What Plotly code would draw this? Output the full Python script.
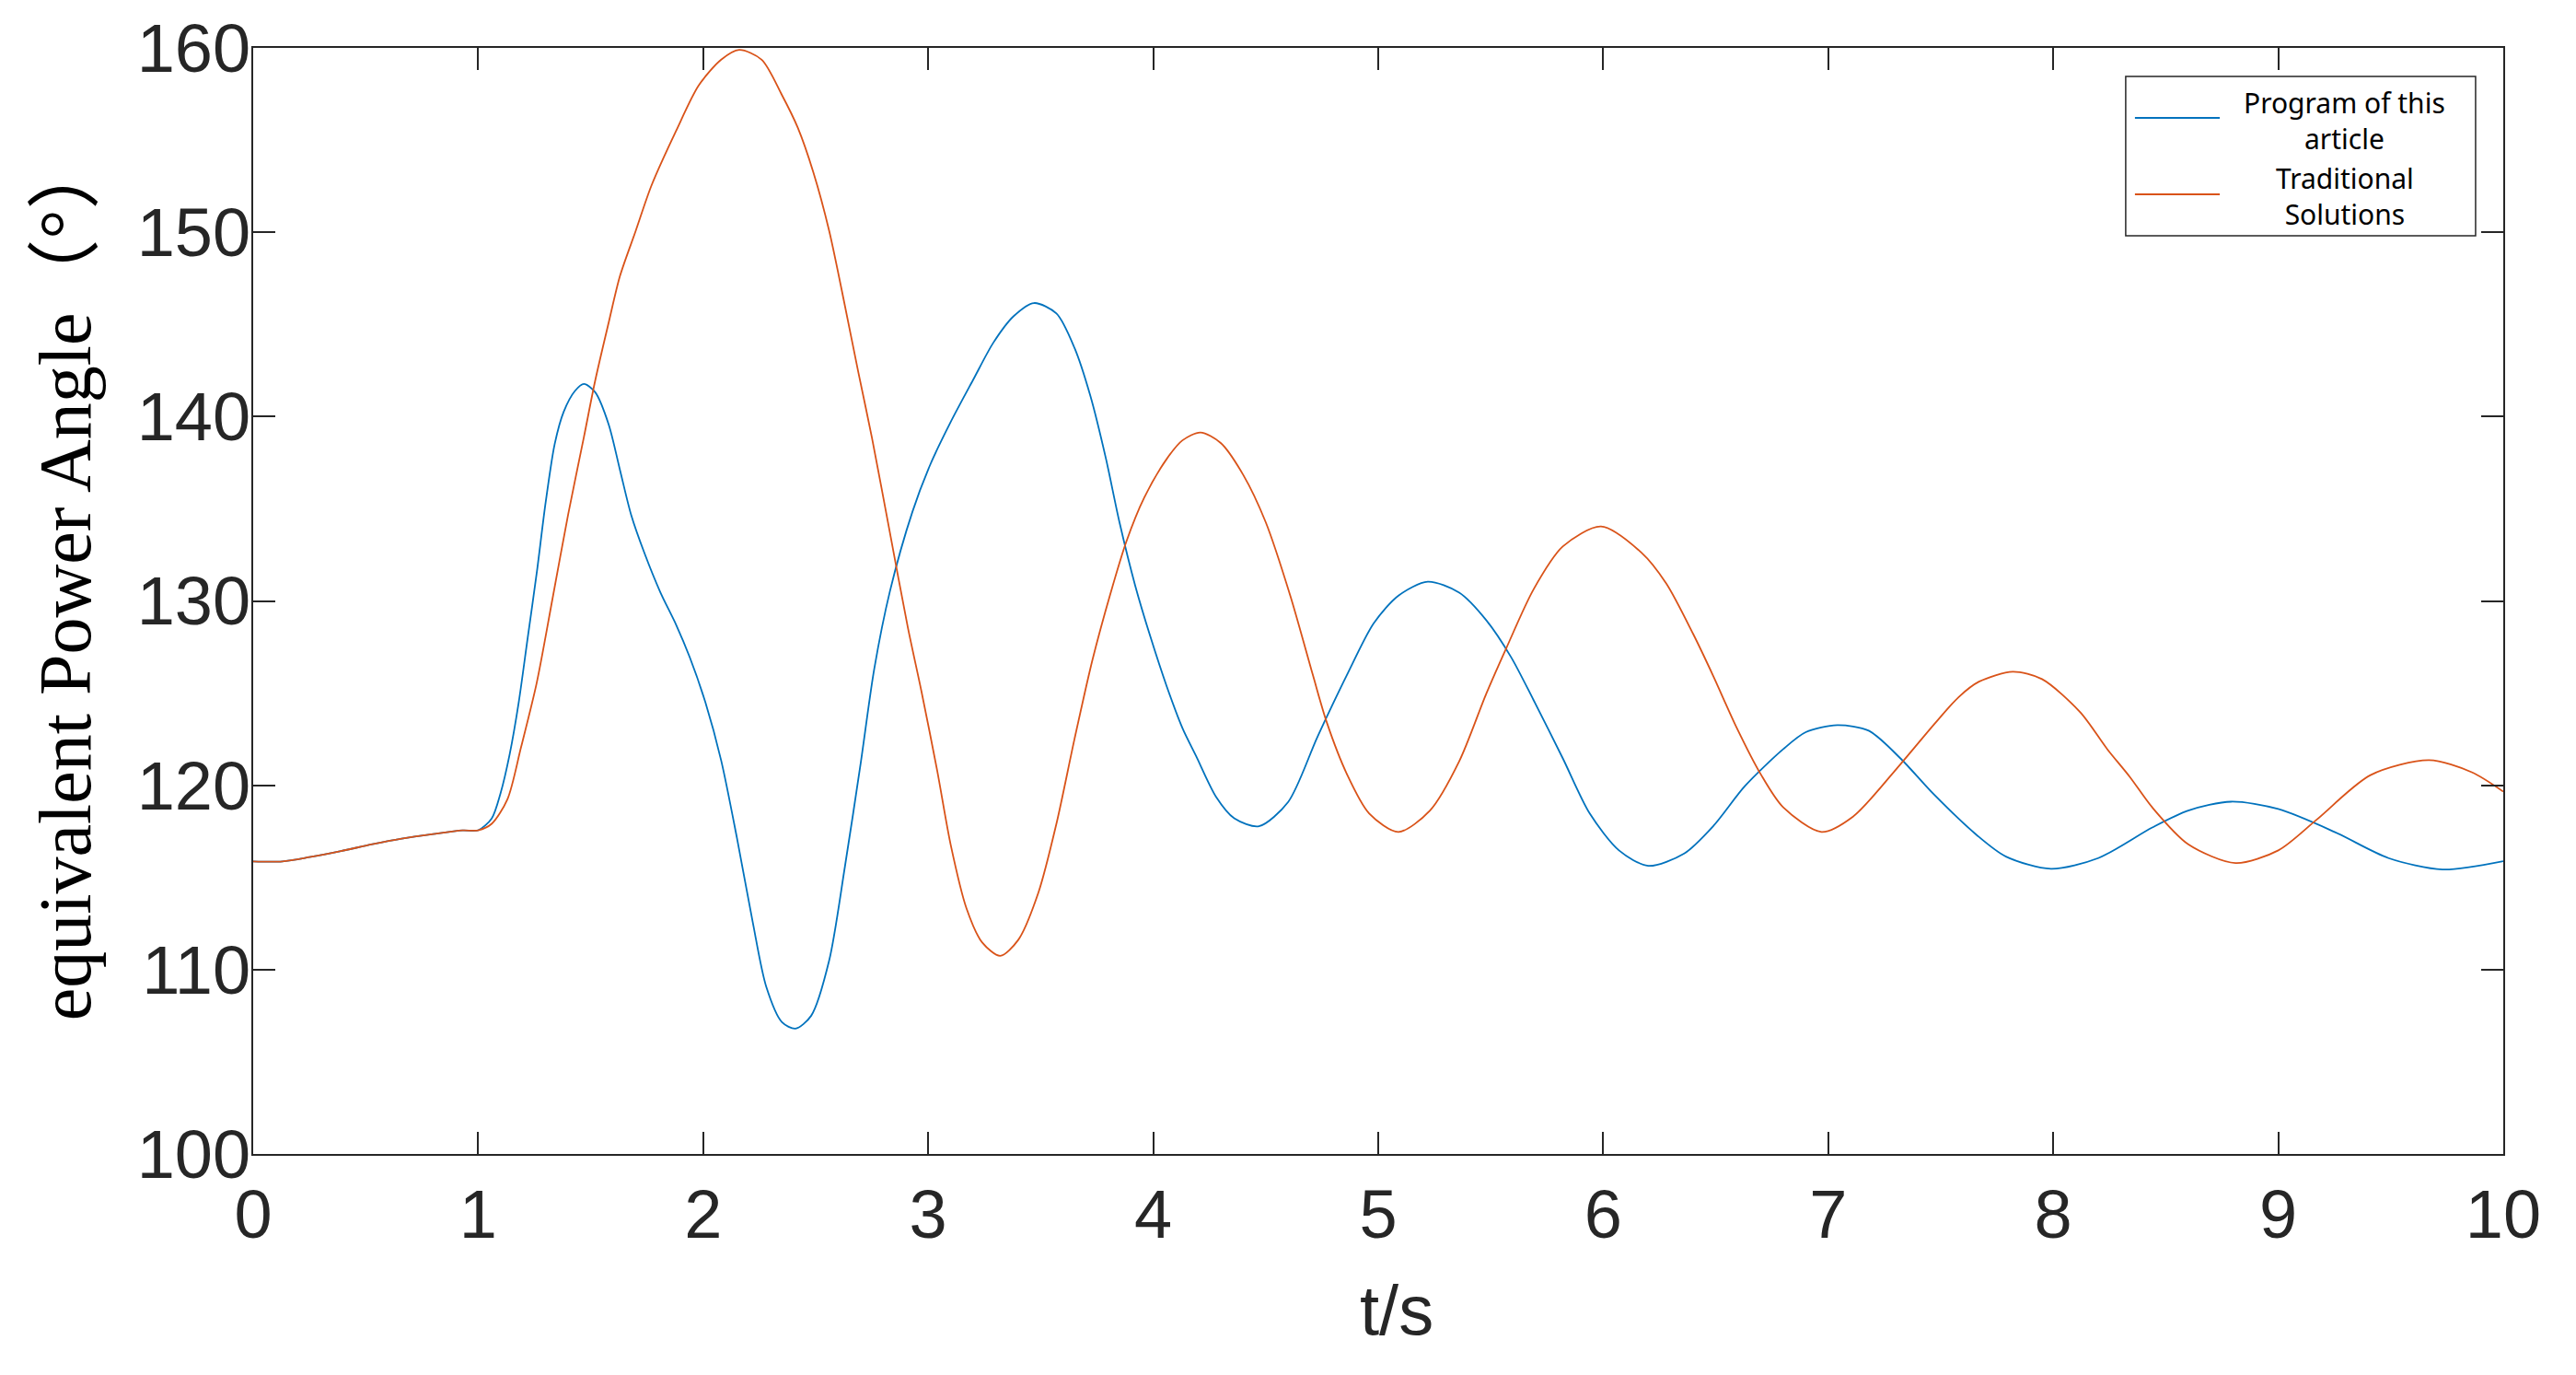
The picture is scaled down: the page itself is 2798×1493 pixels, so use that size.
"""Power angle curves: program of this article vs traditional solutions."""

import plotly.graph_objects as go

# time samples (s) and equivalent power angle (deg)
t_prog = [0.00, 0.13, 0.25, 0.39, 0.53, 0.66, 0.80, 0.93, 1.00, 1.06, 1.10, 1.14,
          1.18, 1.22, 1.26, 1.30, 1.34, 1.38, 1.43, 1.47, 1.52, 1.58, 1.63, 1.68,
          1.74, 1.81, 1.88, 1.94, 2.01, 2.08, 2.15, 2.22, 2.28, 2.35, 2.41, 2.48,
          2.56, 2.63, 2.70, 2.76, 2.83, 2.93, 3.01, 3.10, 3.20, 3.29, 3.38, 3.47,
          3.57, 3.65, 3.72, 3.79, 3.85, 3.92, 3.99, 4.06, 4.13, 4.19, 4.28, 4.36,
          4.47, 4.60, 4.73, 4.86, 4.98, 5.09, 5.22, 5.36, 5.48, 5.59, 5.69, 5.82,
          5.94, 6.07, 6.20, 6.36, 6.49, 6.63, 6.80, 6.90, 7.04, 7.18, 7.32, 7.47,
          7.66, 7.79, 7.99, 8.20, 8.44, 8.60, 8.79, 9.00, 9.25, 9.49, 9.73, 10.00]
v_prog = [115.87, 115.87, 116.10, 116.43, 116.80, 117.10, 117.35, 117.55, 117.56,
          118.20, 119.60, 121.69, 124.49, 128.00, 131.50, 135.36, 138.51, 140.26,
          141.39, 141.77, 141.32, 139.57, 137.11, 134.66, 132.56, 130.46, 128.70,
          126.95, 124.49, 121.34, 117.14, 112.58, 109.08, 107.15, 106.80, 107.50,
          110.50, 115.60, 121.20, 126.30, 130.53, 134.84, 137.42, 139.71, 142.00,
          144.02, 145.45, 146.16, 145.59, 143.73, 141.15, 137.71, 134.27, 130.83,
          127.96, 125.37, 123.10, 121.60, 119.36, 118.21, 117.78, 119.10, 122.63,
          125.96, 128.79, 130.29, 131.04, 130.45, 128.96, 126.96, 124.63, 121.47,
          118.47, 116.47, 115.63, 116.30, 117.80, 119.96, 121.96, 122.88, 123.26,
          122.96, 121.47, 119.50, 117.30, 116.13, 115.47, 116.05, 117.71, 118.63,
          119.11, 118.71, 117.47, 116.05, 115.43, 115.88]

t_trad = [0.00, 0.13, 0.25, 0.39, 0.53, 0.66, 0.80, 0.93, 1.00, 1.06, 1.13, 1.19,
          1.26, 1.33, 1.40, 1.47, 1.52, 1.58, 1.63, 1.70, 1.77, 1.88, 1.98, 2.08,
          2.16, 2.26, 2.35, 2.42, 2.49, 2.56, 2.63, 2.69, 2.75, 2.83, 2.91, 2.97,
          3.04, 3.10, 3.17, 3.24, 3.32, 3.40, 3.49, 3.57, 3.65, 3.73, 3.81, 3.88,
          3.96, 4.06, 4.13, 4.21, 4.30, 4.40, 4.50, 4.61, 4.71, 4.77, 4.86, 4.96,
          5.09, 5.23, 5.36, 5.48, 5.57, 5.69, 5.82, 5.99, 6.17, 6.28, 6.40, 6.49,
          6.59, 6.70, 6.80, 6.97, 7.11, 7.32, 7.47, 7.58, 7.67, 7.82, 7.95, 8.12,
          8.24, 8.34, 8.44, 8.60, 8.81, 9.00, 9.17, 9.41, 9.67, 9.86, 10.00]
v_trad = [115.87, 115.87, 116.10, 116.43, 116.80, 117.10, 117.35, 117.55, 117.56,
          117.91, 119.24, 122.04, 125.55, 130.10, 134.70, 138.90, 141.95, 145.10,
          147.62, 150.07, 152.53, 155.51, 157.96, 159.36, 159.89, 159.36, 157.44,
          155.68, 153.23, 150.07, 146.00, 142.37, 138.85, 133.69, 128.53, 125.09,
          120.79, 116.77, 113.33, 111.47, 110.75, 111.61, 114.19, 117.92, 122.50,
          126.80, 130.40, 133.20, 135.60, 137.70, 138.71, 139.14, 138.57, 136.84,
          134.27, 130.25, 125.96, 123.46, 120.63, 118.47, 117.47, 118.63, 121.30,
          124.96, 127.46, 130.62, 132.95, 134.04, 132.62, 130.95, 128.20, 125.90,
          123.20, 120.60, 118.80, 117.47, 118.30, 121.13, 123.30, 124.79, 125.62,
          126.16, 125.76, 123.96, 121.96, 120.46, 118.80, 116.80, 115.78, 116.47,
          118.13, 120.55, 121.36, 120.71, 119.66]

x_ticks = [0, 1, 2, 3, 4, 5, 6, 7, 8, 9, 10]
y_ticks = [100, 110, 120, 130, 140, 150, 160]

BLUE = "#0072BD"
ORANGE = "#D95319"
AXIS = "#262626"

fig = go.Figure()
fig.add_trace(go.Scatter(x=t_prog, y=v_prog, mode="lines", name="Program of this article",
                         line=dict(color=BLUE, width=1.8, shape="spline", smoothing=0.8)))
fig.add_trace(go.Scatter(x=t_trad, y=v_trad, mode="lines", name="Traditional Solutions",
                         line=dict(color=ORANGE, width=1.8, shape="spline", smoothing=0.8)))

axis_common = dict(
    showline=True, mirror="ticks", linecolor=AXIS, linewidth=2,
    ticks="inside", ticklen=24, tickwidth=2, tickcolor=AXIS,
    showgrid=False, zeroline=False,
    tickfont=dict(family="Liberation Sans, Arial", size=74, color=AXIS),
)

fig.update_xaxes(range=[0, 10], tickvals=x_ticks, **axis_common)
fig.update_yaxes(range=[100, 160], tickvals=y_ticks, ticklabelstandoff=-14, **axis_common)

# axis titles as annotations so they sit where the original puts them
fig.add_annotation(xref="paper", yref="paper", x=0.5082, y=-0.141, text="t/s", showarrow=False,
                   font=dict(family="Liberation Sans, Arial", size=76, color=AXIS),
                   xanchor="center", yanchor="middle")
fig.add_annotation(xref="paper", yref="paper", x=-0.0835, y=0.521, text="equivalent Power Angle（°）",
                   showarrow=False, textangle=-90,
                   font=dict(family="Liberation Serif, Noto Sans CJK SC", size=80, color="black"),
                   xanchor="center", yanchor="middle")

# legend drawn by hand: box, line samples and centred two-line labels
fig.add_shape(type="rect", xref="paper", yref="paper", x0=0.8322, x1=0.9877, y0=0.8302, y1=0.9742,
              line=dict(color=AXIS, width=1.5), fillcolor="white", layer="above")
fig.add_shape(type="line", xref="paper", yref="paper", x0=0.8363, x1=0.8740, y0=0.9367, y1=0.9367,
              line=dict(color=BLUE, width=1.8), layer="above")
fig.add_shape(type="line", xref="paper", yref="paper", x0=0.8363, x1=0.8740, y0=0.8676, y1=0.8676,
              line=dict(color=ORANGE, width=1.8), layer="above")
legend_font = dict(family="Noto Sans, Open Sans", size=30, color="black")
fig.add_annotation(xref="paper", yref="paper", x=0.9296, y=0.9342, text="Program of this<br>article",
                   showarrow=False, align="center", font=legend_font, xanchor="center", yanchor="middle")
fig.add_annotation(xref="paper", yref="paper", x=0.9296, y=0.8659, text="Traditional<br>Solutions",
                   showarrow=False, align="center", font=legend_font, xanchor="center", yanchor="middle")

# the page body adds an 8px margin, so the figure is 16px smaller than the window
fig.update_layout(
    width=2782, height=1477,
    margin=dict(l=267, r=71, t=44, b=232, autoexpand=False),
    paper_bgcolor="white", plot_bgcolor="white",
    showlegend=False,
)

fig.write_html("out.html")
